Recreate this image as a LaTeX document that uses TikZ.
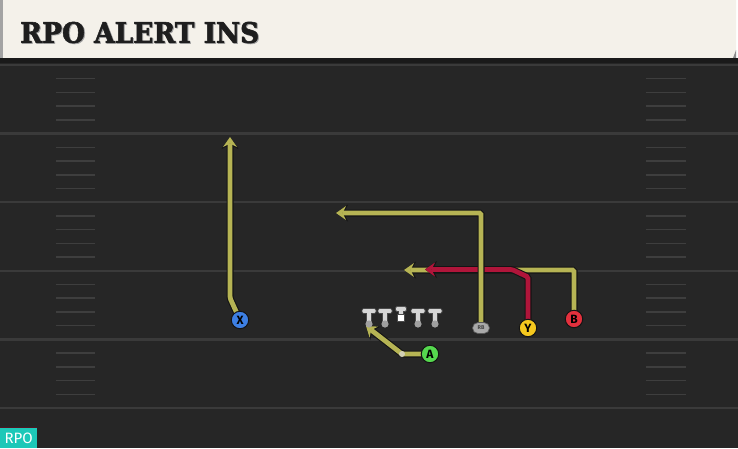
\documentclass[tikz,border=0pt]{standalone}
\usepackage{fontspec}
\usepackage{graphicx}
\setsansfont{Fira Sans}
\newfontfamily\titlefont{DejaVu Serif}[FakeBold=2]
\usetikzlibrary{arrows.meta,shapes.misc}
\definecolor{fieldbg}{HTML}{262626}
\definecolor{yardc}{HTML}{3A3A3A}
\definecolor{hashc}{HTML}{3E3E3E}
\definecolor{cream}{HTML}{F4F1EA}
\definecolor{edgegray}{HTML}{A3A3A3}
\definecolor{foldc}{HTML}{8C8C8C}
\definecolor{bandc}{HTML}{1A1A1A}
\definecolor{titlec}{HTML}{1E1E1E}
\definecolor{routeolive}{HTML}{B6B454}
\definecolor{routered}{HTML}{B0153A}
\definecolor{outl}{HTML}{141414}
\definecolor{xblue}{HTML}{3D7FE3}
\definecolor{yyellow}{HTML}{F5C81E}
\definecolor{bred}{HTML}{E3303D}
\definecolor{agreen}{HTML}{55D84E}
\definecolor{badgec}{HTML}{1DC8B8}
\definecolor{lmfill}{HTML}{D6D6D6}
\definecolor{lmdot}{HTML}{A0A0A0}
\definecolor{lmline}{HTML}{4A4A4A}
\definecolor{rbfill}{HTML}{A9A9A9}
\definecolor{bendc}{HTML}{D2D0B4}
\pgfdeclarelayer{field}
\pgfdeclarelayer{routes}
\pgfsetlayers{field,routes,main}
\tikzset{
  oroute/.style={draw=routeolive, line width=4.8pt, rounded corners=1.5pt,
    -{Stealth[length=10pt,width=14pt,inset=3.5pt,line width=0pt]},
    preaction={draw=outl, line width=7pt, -{Stealth[length=12pt,width=17pt,inset=4.2pt,line width=0pt]}}},
  rroute/.style={oroute, draw=routered},
  player/.style={circle, draw=outl, line width=1pt, minimum size=17.5pt, inner sep=0pt,
    font=\sffamily\bfseries\fontsize{12}{12}\selectfont, text=black},
  yardline/.style={draw=yardc, line width=2.4pt},
  hashline/.style={draw=hashc, line width=1.5pt},
  lineman/.pic={
    \fill[lmfill, draw=lmline, line width=0.7pt] (-2.5,1) rectangle (2.5,13);
    \fill[lmfill, draw=lmline, line width=0.7pt, rounded corners=1.3pt] (-7,-2.5) rectangle (7,2.5);
    \fill[lmfill] (-2.1,1.5) rectangle (2.1,12);
    \fill[lmdot] (0,13) circle (3.6);
  },
  centerman/.pic={
    \fill[lmfill, draw=lmline, line width=0.7pt] (-2.2,1) rectangle (2.2,5);
    \fill[lmfill, draw=lmline, line width=0.7pt, rounded corners=1.3pt] (-5.5,-2.4) rectangle (5.5,2.4);
    \fill[lmfill] (-1.8,1.5) rectangle (1.8,5);
    \fill[white, draw=lmline, line width=0.6pt] (-3.4,5) rectangle (3.4,12.5);
  }
}
\begin{document}
\begin{tikzpicture}[x=1pt,y=-1pt]
\useasboundingbox (0,0) rectangle (738,448);
\begin{pgfonlayer}{field}
  \fill[fieldbg] (0,0) rectangle (738,448);
  \fill[white] (0,0) rectangle (738,58);
  \fill[cream] (0,0) -- (736,0) -- (736,50) -- (733,58) -- (0,58) -- cycle;
  \fill[edgegray] (0,0) rectangle (3,58);
  \fill[foldc] (733,58) -- (736,50) -- (736,58) -- cycle;
  \fill[bandc] (0,58) rectangle (738,63);
  \foreach \k in {0,...,5} {
    \draw[yardline] (0,65+68.6*\k) -- (738,65+68.6*\k);
  }
  \foreach \k in {0,...,4} {
    \foreach \j in {1,...,4} {
      \draw[hashline] (56,65+68.6*\k+13.72*\j) -- (95,65+68.6*\k+13.72*\j);
      \draw[hashline] (646,65+68.6*\k+13.72*\j) -- (686,65+68.6*\k+13.72*\j);
    }
  }
\end{pgfonlayer}

% title
\node[anchor=west, inner sep=0pt, text=edgegray] (titleshadow) at (21,33.3)
  {\resizebox{239pt}{21pt}{\titlefont\bfseries RPO ALERT INS}};
\node[anchor=west, inner sep=0pt, text=titlec] (title) at (20,32.5)
  {\resizebox{239pt}{21pt}{\titlefont\bfseries RPO ALERT INS}};

% badge
\fill[outl!60!routered] (0,427) rectangle (37,428.5);
\node[fill=badgec, text=white, minimum width=37pt, minimum height=19.5pt, inner sep=0pt,
  anchor=south west, font=\sffamily\fontsize{15}{15}\selectfont] (badge) at (0,448) {RPO};

% linemen
\pic at (369,311) {lineman};
\pic at (385,311) {lineman};
\pic at (401,309) {centerman};
\pic at (418,311) {lineman};
\pic at (435,311) {lineman};

% players
\node[player, fill=xblue] (X) at (240,320) {X};
\node[player, fill=yyellow] (Y) at (528,328) {Y};
\node[player, fill=bred] (B) at (574,319) {B};
\node[player, fill=agreen] (A) at (430,354) {A};
\node[rounded rectangle, fill=rbfill, draw=outl!70, line width=0.7pt, minimum width=17pt,
  minimum height=11pt, inner sep=0pt, text=outl!80,
  font=\sffamily\bfseries\fontsize{5.5}{5.5}\selectfont] (RB) at (481,328) {RB};

% route coordinates
\coordinate (xbend) at (230,298);
\coordinate (xend) at (230,137);
\coordinate (rbbend) at (481,213);
\coordinate (rbend) at (336,213);
\coordinate (bbend) at (574,270);
\coordinate (bend) at (404,270);
\coordinate (ybend1) at (528,277);
\coordinate (ybend2) at (512,269.5);
\coordinate (yend) at (425,269.5);
\coordinate (abend) at (402,354);
\coordinate (aend) at (366,326);

\begin{pgfonlayer}{routes}
  \draw[oroute] (X.center) -- (xbend) -- (xend);
  \draw[oroute] (B.center) -- (bbend) -- (bend);
  \draw[rroute] (Y.center) -- (ybend1) -- (ybend2) -- (yend);
  \draw[oroute] (RB.center) -- (rbbend) -- (rbend);
  \draw[oroute] (A.center) -- (abend) -- (aend);
\end{pgfonlayer}
\fill[bendc] (abend) circle (3);
\end{tikzpicture}
\end{document}
